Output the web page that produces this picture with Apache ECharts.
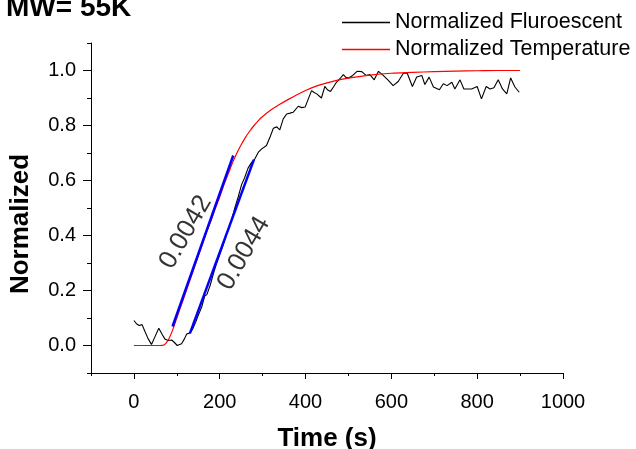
<!DOCTYPE html>
<html>
<head>
<meta charset="utf-8">
<script src="https://cdn.jsdelivr.net/npm/echarts@6/dist/echarts.min.js"></script>
<style>html,body{margin:0;padding:0;background:#fff}#c{width:636px;height:449px}</style>
</head>
<body>
<div id="c"></div>
<script>
const titleText = 'MW= 55K';
const seriesNames = ['Normalized Fluroescent', 'Normalized Temperature'];
const xMajorTicks = [0, 200, 400, 600, 800, 1000];
const xMinorTicks = [-100, 100, 300, 500, 700, 900];
const yMajorTicks = [0, 0.2, 0.4, 0.6, 0.8, 1.0];
const yMinorTicks = [-0.1, 0.1, 0.3, 0.5, 0.7, 0.9, 1.1];

const fluorescent = [
[0,0.091],[6,0.079],[12,0.073],[19,0.076],[26,0.05],[33,0.025],[41,0.004],[50,0.035],[58,0.063],[66,0.04],[72,0.024],[80,0.018],[88,0.02],[95,0.01],[101,0.0],[111,0.006],[118,0.025],[123,0.042],[130,0.045],[137,0.06],[144,0.085],[150,0.11],[158,0.14],[165,0.18],[170,0.185],[178,0.22],[185,0.26],[192,0.295],[200,0.33],[208,0.365],[215,0.4],[222,0.43],[230,0.47],[236,0.505],[243,0.54],[246,0.545],[251,0.585],[258,0.61],[266,0.645],[274,0.665],[282,0.679],[290,0.703],[298,0.715],[309,0.727],[317,0.757],[325,0.79],[333,0.795],[340,0.784],[348,0.824],[356,0.842],[364,0.845],[371,0.848],[383,0.87],[391,0.865],[399,0.867],[406,0.895],[414,0.927],[420,0.92],[426,0.915],[437,0.9],[445,0.942],[451,0.93],[458,0.924],[465,0.94],[472,0.957],[480,0.97],[488,0.985],[494,0.975],[500,0.973],[510,0.982],[520,0.997],[531,0.996],[541,0.982],[550,0.985],[560,0.966],[570,0.997],[581,0.982],[593,0.964],[604,0.945],[616,0.96],[628,0.99],[637,0.99],[649,0.942],[659,0.976],[671,0.982],[678,0.949],[688,0.976],[698,0.94],[712,0.93],[721,0.952],[730,0.945],[741,0.957],[748,0.933],[760,0.966],[769,0.933],[787,0.933],[800,0.942],[810,0.897],[821,0.942],[830,0.933],[839,0.937],[849,0.966],[859,0.933],[869,0.915],[878,0.973],[888,0.94],[898,0.921]
];

const temperature = [
[0,0],[10,0],[20,0],[30,0],[40,0],[50,0],[60,0],[70,0.002],[80,0.02],[90,0.055],[100,0.10],[110,0.145],[120,0.19],[130,0.235],[140,0.28],[150,0.325],[160,0.37],[170,0.415],[180,0.455],[190,0.50],[200,0.54],[210,0.585],[220,0.625],[230,0.665],[240,0.70],[250,0.73],[260,0.757],[270,0.78],[280,0.80],[290,0.818],[300,0.833],[320,0.857],[340,0.877],[360,0.895],[380,0.912],[400,0.927],[425,0.943],[450,0.955],[475,0.965],[500,0.972],[550,0.983],[600,0.99],[650,0.993],[700,0.996],[750,0.998],[800,0.999],[850,1.0],[900,1.0]
];

const fitTemperature = [[90,0.069],[231.5,0.691]];
const fitFluorescent = [[130.5,0.044],[279.7,0.676]];
const slopeLabels = ['0.0042', '0.0044'];
const slopeLabelAnchors = [[120.7, 0.412], [256.4, 0.335]];

const FONT = '"Liberation Sans", Arial, sans-serif';
const chart = echarts.init(document.getElementById('c'), null, {renderer: 'canvas'});

function baseAxis(extra) {
  return Object.assign({
    type: 'value',
    gridIndex: 0,
    splitLine: {show: false},
    axisLine: {show: true, onZero: false, lineStyle: {color: '#000', width: 1}},
  }, extra);
}

chart.setOption({
  animation: false,
  backgroundColor: '#fff',
  title: {
    text: titleText, left: 6, top: -6, padding: 0,
    textStyle: {fontFamily: FONT, fontSize: 28, fontWeight: 'bold', color: '#000'}
  },
  legend: {
    orient: 'vertical', left: 342, top: 11.5, itemGap: 5,
    itemWidth: 48, itemHeight: 1.3, padding: 0, icon: 'rect',
    data: seriesNames,
    textStyle: {fontFamily: FONT, fontSize: 21.5, color: '#000', lineHeight: 21}
  },
  grid: {left: 91, right: 73, top: 43, bottom: 76, containLabel: false, outerBoundsMode: 'none'},
  xAxis: [
    baseAxis({
      min: -100, max: 1000, position: 'bottom',
      name: 'Time (s)', nameLocation: 'middle', nameGap: 53,
      nameTextStyle: {fontFamily: FONT, fontSize: 26, fontWeight: 'bold', color: '#000'},
      axisTick: {show: true, inside: false, length: 6, customValues: xMajorTicks, lineStyle: {color: '#000'}},
      axisLabel: {show: true, customValues: xMajorTicks, margin: 19, fontFamily: FONT, fontSize: 20, color: '#000',
        formatter: v => String(v)}
    }),
    baseAxis({
      min: -100, max: 1000, position: 'bottom',
      axisLine: {show: false, onZero: false},
      axisTick: {show: true, inside: false, length: 3, customValues: xMinorTicks, lineStyle: {color: '#000'}},
      axisLabel: {show: false}
    })
  ],
  yAxis: [
    baseAxis({
      min: -0.1, max: 1.1, position: 'left',
      name: 'Normalized', nameLocation: 'middle', nameGap: 57,
      nameTextStyle: {fontFamily: FONT, fontSize: 26, fontWeight: 'bold', color: '#000', padding: [0, 32, 0, 0]},
      axisTick: {show: true, inside: false, length: 8, customValues: yMajorTicks, lineStyle: {color: '#000'}},
      axisLabel: {show: true, customValues: yMajorTicks, margin: 15, fontFamily: FONT, fontSize: 20, color: '#000',
        formatter: v => v.toFixed(1)}
    }),
    baseAxis({
      min: -0.1, max: 1.1, position: 'left',
      axisLine: {show: false, onZero: false},
      axisTick: {show: true, inside: false, length: 4, customValues: yMinorTicks, lineStyle: {color: '#000'}},
      axisLabel: {show: false}
    })
  ],
  series: [
    {name: seriesNames[0], type: 'line', data: fluorescent, symbol: 'none', color: '#000',
      lineStyle: {color: '#000', width: 1.1}, xAxisIndex: 0, yAxisIndex: 0, z: 2},
    {name: seriesNames[1], type: 'line', data: temperature, symbol: 'none', color: '#ff0000', smooth: 0.3,
      lineStyle: {color: '#ff0000', width: 1.2}, xAxisIndex: 0, yAxisIndex: 0, z: 3},
    {name: 'fitT', type: 'line', data: fitTemperature, symbol: 'none',
      lineStyle: {color: '#0000ff', width: 2.5}, xAxisIndex: 0, yAxisIndex: 0, z: 4},
    {name: 'fitF', type: 'line', data: fitFluorescent, symbol: 'none',
      lineStyle: {color: '#0000ff', width: 2.5}, xAxisIndex: 0, yAxisIndex: 0, z: 4},
    {name: 'slopes', type: 'scatter', symbolSize: 0, xAxisIndex: 0, yAxisIndex: 0, z: 5,
      data: slopeLabelAnchors.map((p, i) => ({value: p, label: {formatter: slopeLabels[i]}})),
      label: {show: true, position: 'inside', rotate: 60, fontFamily: FONT, fontSize: 26, color: '#000',
        align: 'center', verticalAlign: 'middle'}
    }
  ]
});
</script>
</body>
</html>
